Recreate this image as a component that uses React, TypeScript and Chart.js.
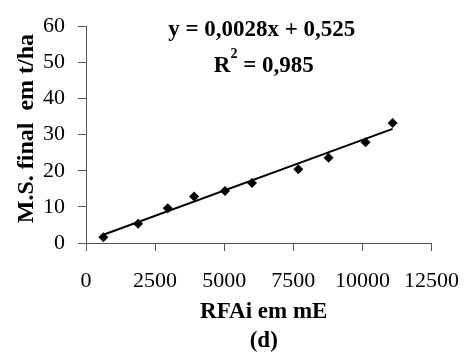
import React, { useEffect, useRef } from "react";
import { Chart, registerables } from "chart.js";

Chart.register(...registerables);

const rfai = [628, 1885, 2957, 3911, 5028, 6006, 7682, 8775, 10114, 11093];
const msFinal = [1.6, 5.3, 9.6, 12.9, 14.4, 16.6, 20.4, 23.6, 27.9, 33.2];
const xTicks = [0, 2500, 5000, 7500, 10000, 12500];
const slope = 0.0028;
const intercept = 0.525;
const equationText = "y = 0,0028x + 0,525";
const r2Text = " = 0,985";
const xTitle = "RFAi em mE";
const yTitle = "M.S. final  em t/ha";
const panelLabel = "(d)";

const FONT = "'Liberation Serif', 'Times New Roman', serif";

const annotationPlugin = {
  id: "annotations",
  afterDraw(chart: any) {
    const ctx = chart.ctx as CanvasRenderingContext2D;
    const area = chart.chartArea;
    const cx = (area.left + area.right) / 2 + 5;
    const bold = `bold 23px ${FONT}`;
    const supFont = `bold 14px ${FONT}`;
    ctx.save();
    ctx.fillStyle = "#000";
    ctx.textBaseline = "alphabetic";

    // equation
    ctx.font = bold;
    ctx.textAlign = "center";
    ctx.fillText(equationText, cx - 2, 36);

    // R² line
    ctx.textAlign = "left";
    ctx.font = bold;
    const wR = ctx.measureText("R").width;
    const wRest = ctx.measureText(r2Text).width;
    ctx.font = supFont;
    const w2 = ctx.measureText("2").width;
    const total = wR + w2 + wRest;
    const x0 = cx - total / 2;
    ctx.font = bold;
    ctx.fillText("R", x0, 72);
    ctx.font = supFont;
    ctx.fillText("2", x0 + wR, 58);
    ctx.font = bold;
    ctx.fillText(r2Text, x0 + wR + w2, 72);

    // x axis title and panel label
    ctx.textAlign = "center";
    ctx.fillText(xTitle, cx, 318);
    ctx.fillText(panelLabel, cx, 347);

    // y axis title
    ctx.save();
    ctx.font = `bold 24px ${FONT}`;
    ctx.translate(33, (area.top + area.bottom) / 2 - 6);
    ctx.rotate(-Math.PI / 2);
    ctx.textAlign = "center";
    ctx.fillText(yTitle, 0, 0);
    ctx.restore();

    ctx.restore();
  },
};

export default function App() {
  const ref = useRef<HTMLCanvasElement | null>(null);
  useEffect(() => {
    if (!ref.current) return;
    const xMin = Math.min(...rfai);
    const xMax = Math.max(...rfai);
    const chart = new Chart(ref.current, {
      type: "scatter",
      data: {
        datasets: [
          {
            type: "line",
            label: "trend",
            data: [
              { x: xMin, y: slope * xMin + intercept },
              { x: xMax, y: slope * xMax + intercept },
            ],
            borderColor: "#000",
            borderWidth: 2,
            pointRadius: 0,
            fill: false,
          },
          {
            type: "scatter",
            label: "M.S.",
            data: rfai.map((x, i) => ({ x, y: msFinal[i] })),
            pointStyle: "rectRot",
            pointRadius: 5,
            backgroundColor: "#000",
            borderColor: "#000",
            borderWidth: 0,
          },
        ],
      },
      options: {
        responsive: false,
        animation: false,
        layout: { padding: { left: 0, right: 32, top: 19, bottom: 0 } },
        plugins: { legend: { display: false }, tooltip: { enabled: false } },
        scales: {
          x: {
            type: "linear",
            min: 0,
            max: 12500,
            afterFit: (s: any) => {
              s.height = 110;
            },
            afterBuildTicks: (s: any) => {
              s.ticks = xTicks.map((v) => ({ value: v }));
            },
            ticks: {
              color: "#000",
              font: { family: FONT, size: 22 },
              padding: 17,
              maxRotation: 0,
              autoSkip: false,
              callback: (v: any) => String(v),
            },
            grid: { drawOnChartArea: false, tickLength: 8, color: "#555", lineWidth: 1 },
            border: { color: "#555", width: 1 },
            title: { display: false },
          },
          y: {
            type: "linear",
            min: 0,
            max: 60,
            afterFit: (s: any) => {
              s.width = 86;
            },
            ticks: {
              stepSize: 10,
              color: "#000",
              font: { family: FONT, size: 22 },
              padding: 13,
            },
            grid: { drawOnChartArea: false, tickLength: 8, color: "#555", lineWidth: 1 },
            border: { color: "#555", width: 1 },
            title: { display: false },
          },
        },
      },
      plugins: [annotationPlugin],
    });
    return () => chart.destroy();
  }, []);
  return (
    <div style={{ position: "fixed", left: 0, top: 0, width: 476, height: 353, background: "#fff" }}>
      <canvas ref={ref} width={476} height={353} style={{ display: "block" }} />
    </div>
  );
}
